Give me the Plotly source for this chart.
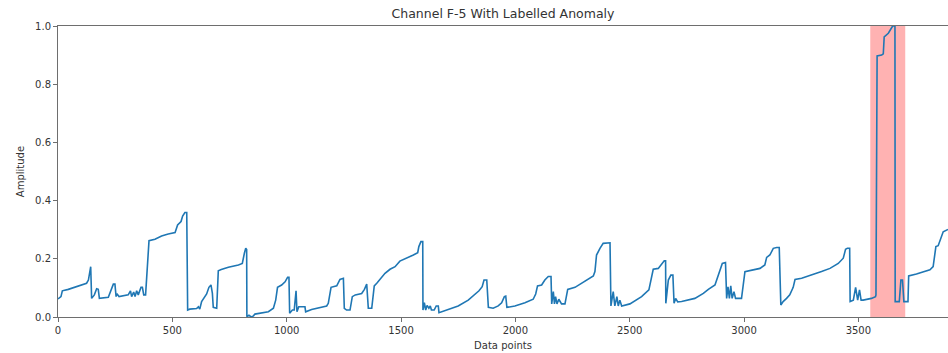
import plotly.graph_objects as go

# Channel F-5 telemetry samples (index, amplitude)
data_index = [
    0, 13, 19, 45, 125, 133, 143, 147, 159, 169, 176, 181, 220, 232, 242, 249, 254, 258, 267,
    307, 317, 322, 331, 337, 344, 351, 363, 369, 375, 383, 398, 424, 453, 482, 512, 523, 538,
    545, 555, 563, 567, 576, 606, 614, 620, 628, 640, 650, 660, 669, 675, 679, 694, 701, 714,
    745, 789, 806, 815, 821, 825, 826, 835, 845, 855, 861, 920, 942, 952, 960, 978, 993, 1004,
    1010, 1013, 1025, 1033, 1041, 1045, 1053, 1080, 1083, 1109, 1175, 1182, 1194, 1219, 1233,
    1248, 1252, 1262, 1277, 1287, 1300, 1328, 1340, 1350, 1357, 1372, 1383, 1394, 1408, 1430,
    1452, 1474, 1495, 1525, 1554, 1573, 1578, 1587, 1595, 1596, 1602, 1608, 1614, 1622, 1628,
    1633, 1645, 1654, 1663, 1666, 1707, 1750, 1794, 1823, 1841, 1855, 1863, 1875, 1882, 1903,
    1925, 1940, 1952, 1958, 1963, 1998, 2042, 2078, 2089, 2097, 2115, 2129, 2144, 2156, 2159,
    2166, 2171, 2176, 2182, 2190, 2202, 2217, 2229, 2261, 2290, 2319, 2341, 2348, 2355, 2370,
    2384, 2414, 2418, 2428, 2435, 2444, 2450, 2457, 2465, 2501, 2552, 2584, 2596, 2603, 2625,
    2640, 2651, 2657, 2658, 2669, 2680, 2689, 2694, 2701, 2710, 2727, 2785, 2822, 2844, 2873,
    2885, 2895, 2905, 2919, 2924, 2930, 2936, 2942, 2948, 2956, 2963, 2989, 3004, 3040, 3070,
    3091, 3099, 3113, 3128, 3143, 3154, 3161, 3171, 3186, 3200, 3215, 3223, 3252, 3296, 3339,
    3376, 3412, 3434, 3444, 3452, 3462, 3464, 3478, 3488, 3497, 3505, 3512, 3521, 3557, 3575,
    3577, 3582, 3602, 3609, 3613, 3631, 3641, 3650, 3660, 3661, 3679, 3686, 3693, 3699, 3717,
    3720, 3754, 3791, 3813, 3827, 3839, 3849, 3860, 3871, 3892,
]
amplitude = [
    0.062, 0.070, 0.090, 0.095, 0.116, 0.127, 0.173, 0.064, 0.076, 0.097, 0.095, 0.064, 0.068,
    0.093, 0.113, 0.113, 0.070, 0.080, 0.070, 0.076, 0.090, 0.070, 0.086, 0.070, 0.090, 0.076,
    0.102, 0.102, 0.076, 0.076, 0.262, 0.267, 0.278, 0.285, 0.290, 0.316, 0.328, 0.347, 0.359,
    0.359, 0.024, 0.027, 0.029, 0.035, 0.027, 0.053, 0.070, 0.079, 0.102, 0.110, 0.082, 0.033,
    0.030, 0.159, 0.163, 0.171, 0.179, 0.184, 0.219, 0.236, 0.232, 0.001, 0.006, 0.000, 0.004,
    0.010, 0.018, 0.030, 0.058, 0.102, 0.110, 0.121, 0.136, 0.136, 0.013, 0.024, 0.024, 0.090,
    0.018, 0.035, 0.035, 0.018, 0.026, 0.038, 0.047, 0.102, 0.107, 0.129, 0.133, 0.030, 0.024,
    0.024, 0.070, 0.076, 0.081, 0.095, 0.113, 0.030, 0.030, 0.107, 0.116, 0.129, 0.150, 0.164,
    0.173, 0.192, 0.202, 0.213, 0.221, 0.242, 0.259, 0.259, 0.024, 0.049, 0.024, 0.040, 0.030,
    0.038, 0.024, 0.024, 0.038, 0.038, 0.015, 0.026, 0.038, 0.058, 0.076, 0.090, 0.104, 0.127,
    0.127, 0.033, 0.030, 0.038, 0.049, 0.070, 0.072, 0.033, 0.038, 0.049, 0.061, 0.079, 0.107,
    0.110, 0.127, 0.139, 0.139, 0.045, 0.087, 0.045, 0.070, 0.045, 0.061, 0.045, 0.045, 0.095,
    0.102, 0.116, 0.129, 0.141, 0.156, 0.213, 0.236, 0.253, 0.255, 0.038, 0.087, 0.038, 0.070,
    0.038, 0.058, 0.038, 0.045, 0.070, 0.093, 0.139, 0.164, 0.167, 0.184, 0.193, 0.193, 0.047,
    0.127, 0.144, 0.144, 0.047, 0.064, 0.052, 0.053, 0.064, 0.081, 0.095, 0.110, 0.139, 0.156,
    0.184, 0.187, 0.064, 0.104, 0.064, 0.107, 0.064, 0.087, 0.064, 0.064, 0.156, 0.162, 0.167,
    0.179, 0.205, 0.213, 0.236, 0.239, 0.239, 0.041, 0.053, 0.064, 0.076, 0.102, 0.129, 0.133,
    0.144, 0.156, 0.167, 0.184, 0.202, 0.233, 0.236, 0.236, 0.053, 0.058, 0.102, 0.058, 0.093,
    0.058, 0.058, 0.064, 0.070, 0.076, 0.897, 0.900, 0.904, 0.963, 0.975, 0.986, 1.000, 1.000,
    0.053, 0.053, 0.127, 0.127, 0.053, 0.053, 0.141, 0.148, 0.156, 0.162, 0.173, 0.242, 0.245,
    0.270, 0.293, 0.301,
]

# Labelled anomaly window (start, end index)
anomaly_start = 3552
anomaly_end = 3705

x_ticks = [0, 500, 1000, 1500, 2000, 2500, 3000, 3500]
y_ticks = [0.0, 0.2, 0.4, 0.6, 0.8, 1.0]

axis_color = "#6e6e6e"
text_color = "#333333"
font_family = "DejaVu Sans, sans-serif"

fig = go.Figure()

fig.add_vrect(
    x0=anomaly_start, x1=anomaly_end,
    fillcolor="rgba(255,0,0,0.3)", line_width=0, layer="below",
)

fig.add_trace(go.Scatter(
    x=data_index, y=amplitude, mode="lines",
    line=dict(color="#1f77b4", width=1.6),
    showlegend=False,
))

fig.update_layout(
    width=948, height=353,
    margin=dict(l=58, r=0, t=26, b=36),
    paper_bgcolor="white", plot_bgcolor="white",
    font=dict(family=font_family, size=10, color=text_color),
    title=dict(
        text="Channel F-5 With Labelled Anomaly",
        x=0.5, xref="paper", xanchor="center",
        y=1 - 14 / 353, yref="container", yanchor="middle",
        font=dict(size=12.5, color=text_color),
    ),
)

fig.update_xaxes(
    range=[0, 3892],
    tickvals=x_ticks,
    ticks="outside", ticklen=4, tickcolor=axis_color, tickwidth=1,
    showline=True, linecolor=axis_color, linewidth=1, mirror=True,
    showgrid=False, zeroline=False,
    title=dict(text="Data points", standoff=6, font=dict(size=10)),
)
fig.update_yaxes(
    range=[0, 1],
    tickvals=y_ticks, tickformat=".1f",
    ticks="outside", ticklen=4, tickcolor=axis_color, tickwidth=1,
    showline=True, linecolor=axis_color, linewidth=1,
    showgrid=False, zeroline=False,
    title=dict(text="Amplitude", standoff=8, font=dict(size=10)),
)

fig.write_html("out.html")
